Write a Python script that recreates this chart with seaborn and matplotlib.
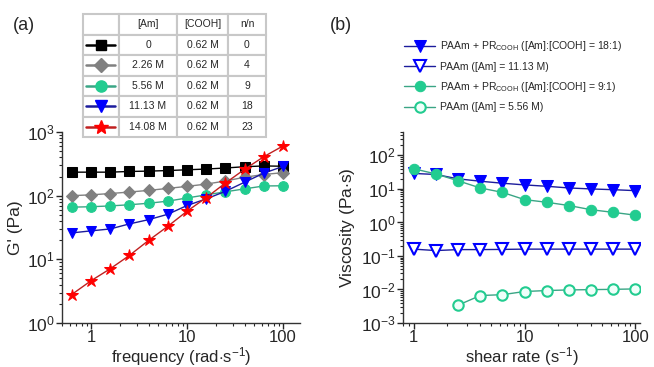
import numpy as np
import pandas as pd
import seaborn as sns
import matplotlib.pyplot as plt
import matplotlib.ticker as mticker

# ---- data ----
# (a) storage modulus vs frequency
freq = [0.631, 1.0, 1.585, 2.512, 3.981, 6.31, 10.0, 15.85, 25.12, 39.81, 63.1, 100.0]
g_0 = [234, 234, 234, 240, 243, 248, 255, 262, 272, 285, 293, 290]
g_226 = [100, 103, 108, 114, 121, 130, 140, 152, 170, 195, 215, 230]
g_556 = [66, 67, 69, 72, 76, 82, 92, 103, 115, 128, 142, 143]
g_1113 = [26, 28, 30, 36, 42, 51, 70, 89, 117, 163, 226, 288]
g_1408 = [2.8, 4.6, 7.1, 11.5, 19.8, 33, 57, 93, 158, 260, 410, 605]

table_am = ["0", "2.26 M", "5.56 M", "11.13 M", "14.08 M"]
table_cooh = ["0.62 M"] * 5
table_nn = ["0", "4", "9", "18", "23"]

# (b) viscosity vs shear rate
shear = [1.0, 1.585, 2.512, 3.981, 6.31, 10.0, 15.85, 25.12, 39.81, 63.1, 100.0]
visc_pr18 = [29, 27, 20, 17, 14.8, 13.2, 12, 10.7, 10, 9.5, 8.9]
visc_paam1113 = [0.16, 0.145, 0.155, 0.155, 0.157, 0.16, 0.16, 0.16, 0.16, 0.16, 0.16]
visc_pr9 = [40, 28, 17.5, 10.7, 7.9, 4.8, 4.0, 3.2, 2.4, 2.0, 1.65]
shear_556 = shear[2:]
visc_paam556 = [0.0034, 0.0066, 0.0070, 0.0087, 0.0093, 0.0097, 0.0099, 0.0101, 0.0104]

sns.set_style("ticks")
plt.rcParams["font.family"] = ["Liberation Sans", "DejaVu Sans"]
plt.rcParams["mathtext.fontset"] = "custom"
plt.rcParams["mathtext.rm"] = "Liberation Sans"
plt.rcParams["mathtext.it"] = "Liberation Sans:italic"
plt.rcParams["mathtext.bf"] = "Liberation Sans:bold"

GREEN = "#22cc90"
GREEN_LINE = "#3aa585"
BLUE = "#0000ff"
BLUE_LINE = "#1c1c9c"

# style for each series in (a): marker, face, line colour, size
styles_a = [
    ("s", "black", "black", 6.5),
    ("D", "#808080", "#808080", 6.5),
    ("o", GREEN, GREEN_LINE, 7),
    ("v", BLUE, BLUE_LINE, 7.5),
    ("*", "#ff0000", "#c02020", 9),
]
series_a = [g_0, g_226, g_556, g_1113, g_1408]

fig = plt.figure(figsize=(6.54, 3.67), dpi=100)
ax1 = fig.add_axes([62 / 654, 44 / 367, 238 / 654, 191 / 367])
ax2 = fig.add_axes([403 / 654, 44 / 367, 237 / 654, 191 / 367])

for yv, (m, fc, lc, ms) in zip(series_a, styles_a):
    sns.lineplot(x=freq, y=yv, ax=ax1, color=lc, marker=m, markersize=ms,
                 markerfacecolor=fc, markeredgecolor=fc, linewidth=1.0)

ax1.set_xscale("log")
ax1.set_yscale("log")
ax1.set_xlim(0.5, 150)
ax1.set_ylim(1, 1000)
ax1.set_xlabel("frequency (rad$\\cdot$s$^{\\mathregular{-1}}$)", fontsize=12, labelpad=0)
ax1.set_ylabel("G' (Pa)", fontsize=12.5, labelpad=3)

# (b)
sns.lineplot(x=shear, y=visc_pr18, ax=ax2, color=BLUE_LINE, marker="v", markersize=8,
             markerfacecolor=BLUE, markeredgecolor=BLUE, linewidth=1.0,
             label="PAAm + PR$_{\\mathregular{COOH}}$ ([Am]:[COOH] = 18:1)")
sns.lineplot(x=shear, y=visc_paam1113, ax=ax2, color=BLUE_LINE, marker="v", markersize=8,
             markerfacecolor="white", markeredgecolor=BLUE, markeredgewidth=1.5,
             linewidth=1.0, label="PAAm ([Am] = 11.13 M)")
sns.lineplot(x=shear, y=visc_pr9, ax=ax2, color=GREEN_LINE, marker="o", markersize=7.5,
             markerfacecolor=GREEN, markeredgecolor=GREEN, linewidth=1.0,
             label="PAAm + PR$_{\\mathregular{COOH}}$ ([Am]:[COOH] = 9:1)")
sns.lineplot(x=shear_556, y=visc_paam556, ax=ax2, color=GREEN_LINE, marker="o", markersize=7.5,
             markerfacecolor="#f0fffa", markeredgecolor=GREEN, markeredgewidth=1.5,
             linewidth=1.0, label="PAAm ([Am] = 5.56 M)")

ax2.set_xscale("log")
ax2.set_yscale("log")
ax2.set_xlim(0.8, 110)
ax2.set_ylim(1e-3, 500)
ax2.set_xlabel("shear rate (s$^{\\mathregular{-1}}$)", fontsize=12, labelpad=0)
ax2.set_ylabel("Viscosity (Pa$\\cdot$s)", fontsize=12.5, labelpad=3)

for ax in (ax1, ax2):
    sns.despine(ax=ax)
    ax.xaxis.set_major_locator(mticker.FixedLocator([1, 10, 100]))
    ax.xaxis.set_major_formatter(mticker.FuncFormatter(lambda v, _: f"{v:g}"))
    ax.xaxis.set_minor_locator(mticker.LogLocator(base=10, subs=np.arange(2, 10)))
    ax.xaxis.set_minor_formatter(mticker.NullFormatter())
    ax.yaxis.set_major_locator(mticker.LogLocator(base=10, numticks=10))
    ax.yaxis.set_minor_locator(mticker.LogLocator(base=10, subs=np.arange(2, 10), numticks=20))
    ax.yaxis.set_minor_formatter(mticker.NullFormatter())
    ax.tick_params(which="major", direction="out", length=4, width=1, labelsize=12.5, pad=1)
    ax.tick_params(axis="x", which="major", labelsize=12)
    ax.tick_params(which="minor", direction="out", length=2, width=0.8)
    for s in ("left", "bottom"):
        ax.spines[s].set_linewidth(1)
        ax.spines[s].set_color("#333333")

leg = ax2.legend(loc="upper left", bbox_to_anchor=(400 / 654, 1 - 35 / 367),
                 bbox_transform=fig.transFigure, frameon=False, fontsize=7.5,
                 handlelength=3.0, handletextpad=0.4, labelspacing=0.8,
                 borderaxespad=0)

# table of sample compositions, (a)
axt = fig.add_axes([83 / 654, 1 - 137 / 367, 183 / 654, 123 / 367])
axt.set_axis_off()
axt.set_xlim(0, 1)
axt.set_ylim(0, 1)
cells = [["", "[Am]", "[COOH]", "n/n"]]
for a, c, n in zip(table_am, table_cooh, table_nn):
    cells.append(["", a, c, n])
col_w = [36, 58, 51, 38]
col_w = [w / sum(col_w) for w in col_w]
tbl = axt.table(cellText=cells, colWidths=col_w, cellLoc="center", bbox=[0, 0, 1, 1])
tbl.auto_set_font_size(False)
tbl.set_fontsize(7.5)
for cell in tbl.get_celld().values():
    cell.set_edgecolor("#c8c8c8")
    cell.set_linewidth(1.5)

nrows = len(cells)
for i, (m, fc, lc, ms) in enumerate(styles_a):
    yc = 1 - (i + 1.5) / nrows
    axt.plot([0.015, col_w[0] - 0.02], [yc, yc], color=lc, linewidth=1.8)
    axt.plot([col_w[0] / 2], [yc], marker=m, color=fc, markersize=ms * 1.15, linestyle="none")

fig.text(13 / 654, 1 - 25 / 367, "(a)", fontsize=13, va="center", ha="left")
fig.text(330 / 654, 1 - 25 / 367, "(b)", fontsize=13, va="center", ha="left")

fig.savefig("out.png", dpi=100)
